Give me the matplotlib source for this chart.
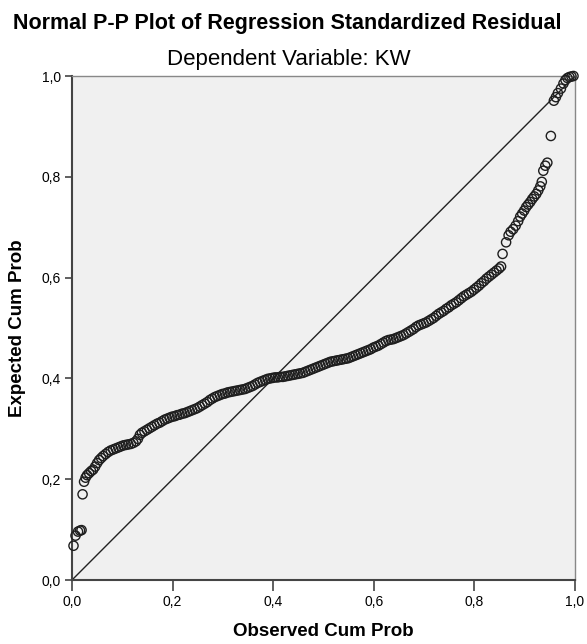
import matplotlib
matplotlib.use("Agg")
import matplotlib.pyplot as plt

observed = [0.003,0.007,0.012,0.016,0.019,0.021,0.024,0.027,0.030,0.034,0.038,0.042,0.046,0.050,0.054,0.058,0.062,0.067,0.072,0.077,0.082,0.087,0.092,0.097,0.102,0.107,0.112,0.117,0.122,0.127,0.131,0.135,0.139,0.144,0.149,0.154,0.159,0.164,0.169,0.174,0.179,0.184,0.189,0.194,0.199,0.204,0.209,0.214,0.219,0.224,0.229,0.234,0.239,0.244,0.249,0.254,0.259,0.264,0.269,0.274,0.279,0.284,0.289,0.294,0.299,0.304,0.309,0.314,0.319,0.324,0.329,0.334,0.339,0.344,0.349,0.354,0.359,0.364,0.369,0.374,0.379,0.384,0.389,0.394,0.399,0.404,0.409,0.414,0.419,0.424,0.429,0.434,0.439,0.444,0.449,0.454,0.459,0.464,0.469,0.474,0.479,0.484,0.489,0.494,0.499,0.504,0.509,0.514,0.519,0.524,0.529,0.534,0.539,0.544,0.549,0.554,0.559,0.564,0.569,0.574,0.579,0.584,0.589,0.594,0.599,0.604,0.609,0.614,0.619,0.624,0.629,0.634,0.639,0.644,0.649,0.654,0.659,0.664,0.669,0.674,0.679,0.684,0.689,0.694,0.699,0.704,0.709,0.714,0.719,0.724,0.729,0.734,0.739,0.744,0.749,0.754,0.759,0.764,0.769,0.774,0.779,0.784,0.789,0.794,0.799,0.804,0.809,0.814,0.819,0.824,0.829,0.834,0.839,0.844,0.849,0.853,0.856,0.863,0.868,0.872,0.877,0.882,0.887,0.891,0.895,0.899,0.903,0.907,0.911,0.915,0.919,0.923,0.927,0.931,0.934,0.937,0.941,0.945,0.952,0.958,0.962,0.966,0.972,0.977,0.981,0.985,0.989,0.993,0.997]

expected = [0.068,0.088,0.096,0.098,0.099,0.170,0.195,0.203,0.208,0.212,0.216,0.219,0.225,0.232,0.238,0.242,0.246,0.250,0.254,0.257,0.259,0.261,0.263,0.265,0.267,0.268,0.269,0.270,0.272,0.275,0.280,0.288,0.292,0.295,0.298,0.301,0.304,0.307,0.310,0.312,0.315,0.318,0.320,0.322,0.324,0.325,0.327,0.328,0.330,0.331,0.333,0.335,0.337,0.339,0.341,0.344,0.347,0.350,0.353,0.357,0.360,0.363,0.365,0.367,0.369,0.370,0.372,0.373,0.374,0.375,0.376,0.377,0.378,0.379,0.381,0.383,0.385,0.388,0.391,0.393,0.395,0.397,0.399,0.400,0.401,0.402,0.402,0.403,0.403,0.404,0.405,0.406,0.407,0.408,0.409,0.410,0.411,0.413,0.415,0.417,0.419,0.421,0.423,0.425,0.427,0.429,0.431,0.433,0.434,0.435,0.436,0.437,0.438,0.439,0.440,0.442,0.444,0.446,0.448,0.450,0.452,0.454,0.456,0.458,0.461,0.463,0.465,0.468,0.471,0.474,0.476,0.477,0.478,0.480,0.482,0.484,0.486,0.489,0.492,0.495,0.498,0.502,0.505,0.507,0.509,0.511,0.514,0.517,0.520,0.524,0.528,0.531,0.534,0.538,0.541,0.545,0.548,0.551,0.555,0.559,0.563,0.566,0.569,0.572,0.576,0.580,0.584,0.589,0.593,0.598,0.602,0.606,0.610,0.614,0.618,0.622,0.647,0.670,0.684,0.691,0.696,0.703,0.712,0.721,0.727,0.733,0.740,0.745,0.750,0.756,0.761,0.766,0.773,0.781,0.790,0.812,0.822,0.828,0.881,0.951,0.958,0.966,0.975,0.985,0.992,0.996,0.998,0.999,1.000]

ref_line = [0.0, 1.0]
tick_values = [0.0, 0.2, 0.4, 0.6, 0.8, 1.0]
tick_labels = ["0,0", "0,2", "0,4", "0,6", "0,8", "1,0"]

plt.rcParams['font.family'] = ['Liberation Sans', 'DejaVu Sans']

fig = plt.figure(figsize=(5.87, 6.44), dpi=100)
fig.patch.set_facecolor('white')
ax = fig.add_axes([72/587, 64/644, 503/587, 504/644])
ax.set_facecolor('#F0F0F0')

ax.plot(ref_line, ref_line, color='#222222', linewidth=1.0, zorder=2)
ax.scatter(observed, expected, s=44, facecolors='none', edgecolors='#1e1e1e',
           linewidths=1.0, zorder=3, clip_on=False)

ax.set_xlim(0, 1)
ax.set_ylim(0, 1)
ax.set_xticks(tick_values)
ax.set_xticklabels(tick_labels)
ax.set_yticks(tick_values)
ax.set_yticklabels(tick_labels)
ax.tick_params(axis='x', direction='out', length=8, width=1.2, color='#444444',
               labelsize=10, pad=3)
ax.tick_params(axis='y', direction='out', length=5, width=1.2, color='#444444',
               labelsize=10, pad=3)

for side in ['left', 'bottom']:
    ax.spines[side].set_color('#444444')
    ax.spines[side].set_linewidth(1.5)
for side in ['top', 'right']:
    ax.spines[side].set_color('#888888')
    ax.spines[side].set_linewidth(1.0)

fig.text((72 + 503 / 2) / 587, 1 - 631/644, 'Observed Cum Prob',
         ha='center', va='center', fontsize=13.5, fontweight='bold')
fig.text(18/587, 64/644 + (504/644) / 2, 'Expected Cum Prob', rotation=90,
         ha='center', va='center', fontsize=13.5, fontweight='bold')

fig.text(287/587, 1 - 23/644, 'Normal P-P Plot of Regression Standardized Residual',
         ha='center', va='center', fontsize=15.5, fontweight='bold')
fig.text(289/587, 1 - 60/644, 'Dependent Variable: KW',
         ha='center', va='center', fontsize=16)

fig.savefig('out.png', dpi=100)
